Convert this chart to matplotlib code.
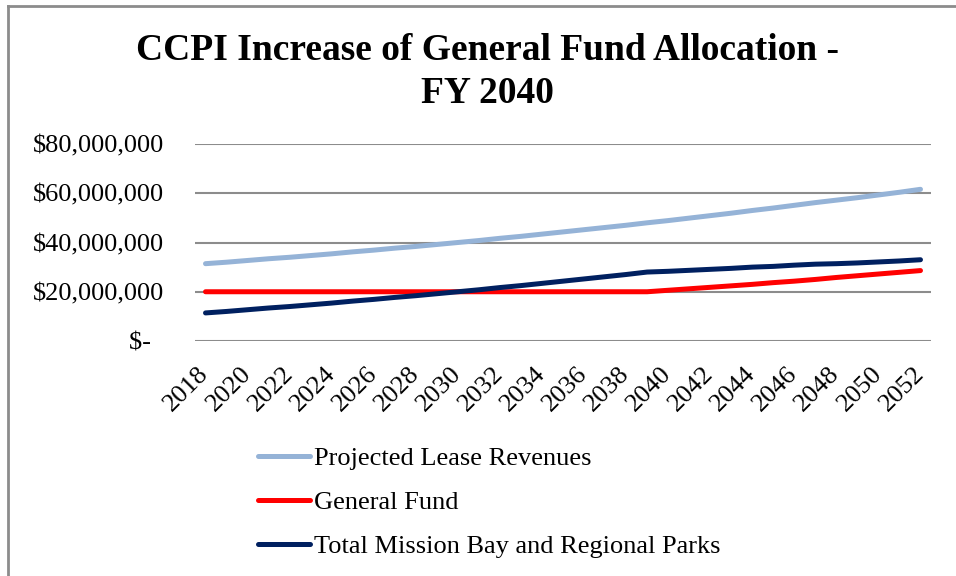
import matplotlib
matplotlib.use("Agg")
import matplotlib.pyplot as plt
from matplotlib.lines import Line2D
from matplotlib.ticker import FuncFormatter, MultipleLocator

plt.rcParams['font.family'] = ['Liberation Serif', 'DejaVu Serif']

years = list(range(2018, 2053))
lease = [31.4, 32.0, 32.7, 33.4, 34.0, 34.7, 35.4, 36.2, 36.9, 37.7, 38.4, 39.2,
         40.0, 40.8, 41.7, 42.5, 43.4, 44.3, 45.2, 46.1, 47.0, 48.0, 48.9, 49.9,
         50.9, 51.9, 53.0, 54.0, 55.1, 56.2, 57.2, 58.2, 59.3, 60.4, 61.6]
general_fund = [20.0] * 22 + [20.6, 21.2, 21.8, 22.4, 23.0, 23.7, 24.3, 25.0,
                              25.8, 26.5, 27.2, 27.9, 28.6]
mission_bay = [11.4, 12.0, 12.7, 13.4, 14.0, 14.7, 15.4, 16.2, 16.9, 17.7, 18.4, 19.2,
               20.0, 20.8, 21.7, 22.5, 23.4, 24.3, 25.2, 26.1, 27.0, 28.0, 28.3, 28.7,
               29.1, 29.5, 30.0, 30.3, 30.8, 31.2, 31.4, 31.7, 32.1, 32.5, 33.0]
labels = ["Projected Lease Revenues", "General Fund", "Total Mission Bay and Regional Parks"]
colors = ["#95B3D7", "#FF0000", "#002060"]
title = "CCPI Increase of General Fund Allocation -\nFY 2040"

W, H = 956, 576
fig = plt.figure(figsize=(W / 100, H / 100), dpi=100)
fig.patch.set_facecolor("white")

ax = fig.add_axes([195 / W, (H - 341) / H, (931 - 195) / W, (341 - 144) / H])
series = [lease, general_fund, mission_bay]
for vals, lab, col in zip(series, labels, colors):
    ax.plot(years, [v * 1e6 for v in vals], color=col, lw=3.6, label=lab,
            solid_capstyle='round')

ax.set_xlim(years[0] - 0.5, years[-1] + 0.5)
ax.set_ylim(0, 80e6)
ax.yaxis.set_major_locator(MultipleLocator(20e6))
ax.yaxis.set_major_formatter(FuncFormatter(
    lambda v, p: "$-  " if v == 0 else "${:,.0f}".format(v)))
ax.grid(axis='y', color='#8C8C8C', lw=1.5)
ax.set_axisbelow(True)
for s in ax.spines.values():
    s.set_visible(False)
ax.tick_params(axis='both', length=0, labelsize=19)
ax.tick_params(axis='y', pad=22)
ax.set_xticks(years[::2])
ax.set_xticklabels([str(y) for y in years[::2]], rotation=45, ha='right',
                   va='center', rotation_mode='anchor')
ax.tick_params(axis='x', pad=21)

fig.text(0.51, 1 - 33 / H, title, ha='center', va='top', fontsize=27,
         fontweight='bold', linespacing=1.3)

handles, labs = ax.get_legend_handles_labels()
fig.legend(handles, labs, loc='upper left', bbox_to_anchor=(247 / W, 1 - 436 / H),
           frameon=False, fontsize=19, handlelength=2.0, handletextpad=0.15,
           labelspacing=0.78, borderaxespad=0)

fig.add_artist(Line2D([8 / W, 956 / W], [1 - 5.5 / H, 1 - 5.5 / H],
                      transform=fig.transFigure, color='#8C8C8C', lw=2))
fig.add_artist(Line2D([8 / W, 8 / W], [0, 1 - 5.5 / H],
                      transform=fig.transFigure, color='#8C8C8C', lw=2))

fig.savefig("out.png", dpi=100, facecolor="white")
